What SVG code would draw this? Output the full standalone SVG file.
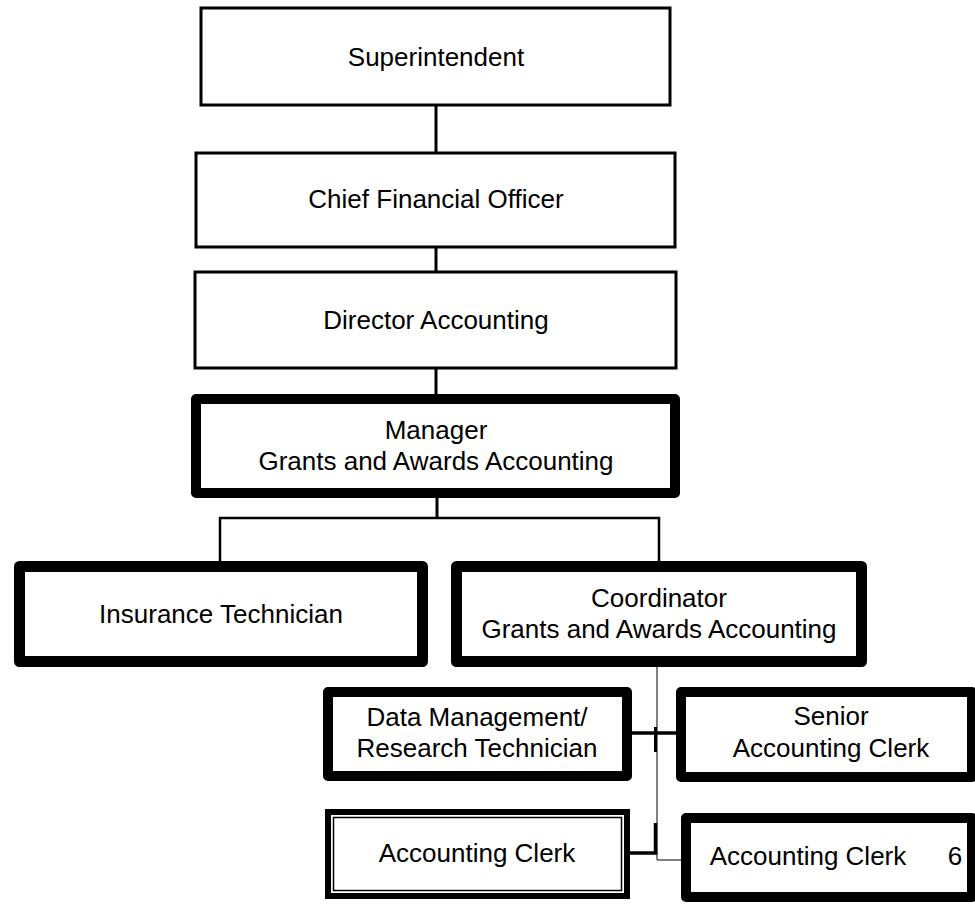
<svg xmlns="http://www.w3.org/2000/svg" width="975" height="904" viewBox="0 0 975 904">
<style>
.box{fill:#fff;stroke:#000;stroke-width:3}
.thick{fill:#fff;stroke:#000;stroke-width:10;stroke-linejoin:round}
.dbl{fill:#fff;stroke:#000;stroke-width:6}
.inner{fill:none;stroke:#000;stroke-width:1.5}
.t{font-family:"Liberation Sans",Arial,sans-serif;font-size:26px;fill:#000;text-anchor:middle}
.c{stroke:#000;fill:none}
</style>
<rect width="975" height="904" fill="#fff"/>
<g id="connectors">
<line class="c" x1="436" y1="105" x2="436" y2="153" stroke-width="3"/>
<line class="c" x1="436" y1="248" x2="436" y2="272" stroke-width="3"/>
<line class="c" x1="436" y1="368" x2="436" y2="394" stroke-width="3"/>
<line class="c" x1="437" y1="498" x2="437" y2="518" stroke-width="3"/>
<polyline class="c" points="220,561 220,518 659,518 659,561" stroke-width="2.5"/>
<polyline class="c" points="657,667 657,860 681,860" stroke-width="1"/>
<line class="c" x1="632" y1="733" x2="676" y2="733" stroke-width="3.5"/>
<line class="c" x1="655.5" y1="727" x2="655.5" y2="752" stroke-width="3"/>
<polyline class="c" points="630,853 655.5,853 655.5,823" stroke-width="3.5"/>
</g>
<g id="superintendent"><rect class="box" x="201" y="8" width="469" height="97"/><text class="t" x="436" y="66">Superintendent</text></g>
<g id="cfo"><rect class="box" x="196" y="153" width="479" height="94"/><text class="t" x="436" y="208">Chief Financial Officer</text></g>
<g id="director"><rect class="box" x="195" y="272" width="481" height="96"/><text class="t" x="436" y="329">Director Accounting</text></g>
<g id="manager"><rect class="thick" x="196" y="399" width="479" height="94"/><text class="t" x="436" y="439">Manager</text><text class="t" x="436" y="470">Grants and Awards Accounting</text></g>
<g id="insurance"><rect class="thick" x="19.5" y="566.5" width="403" height="95" style="stroke-width:11"/><text class="t" x="221" y="623">Insurance Technician</text></g>
<g id="coordinator"><rect class="thick" x="456.5" y="566.5" width="405" height="95" style="stroke-width:11"/><text class="t" x="659" y="607">Coordinator</text><text class="t" x="659" y="638">Grants and Awards Accounting</text></g>
<g id="datamgmt"><rect class="thick" x="328" y="692" width="299" height="84"/><text class="t" x="477" y="726">Data Management/</text><text class="t" x="477" y="757">Research Technician</text></g>
<g id="senior"><rect class="thick" x="681" y="692" width="291" height="85"/><text class="t" x="831" y="725">Senior</text><text class="t" x="831" y="757">Accounting Clerk</text></g>
<g id="clerk"><rect class="dbl" x="328" y="812" width="299" height="84"/><rect class="inner" x="333.5" y="817.5" width="288" height="73"/><text class="t" x="477" y="862">Accounting Clerk</text></g>
<g id="clerk6"><rect class="thick" x="686" y="818" width="286" height="79"/><text class="t" x="808" y="865">Accounting Clerk</text><text class="t" x="955" y="865">6</text></g>
</svg>
